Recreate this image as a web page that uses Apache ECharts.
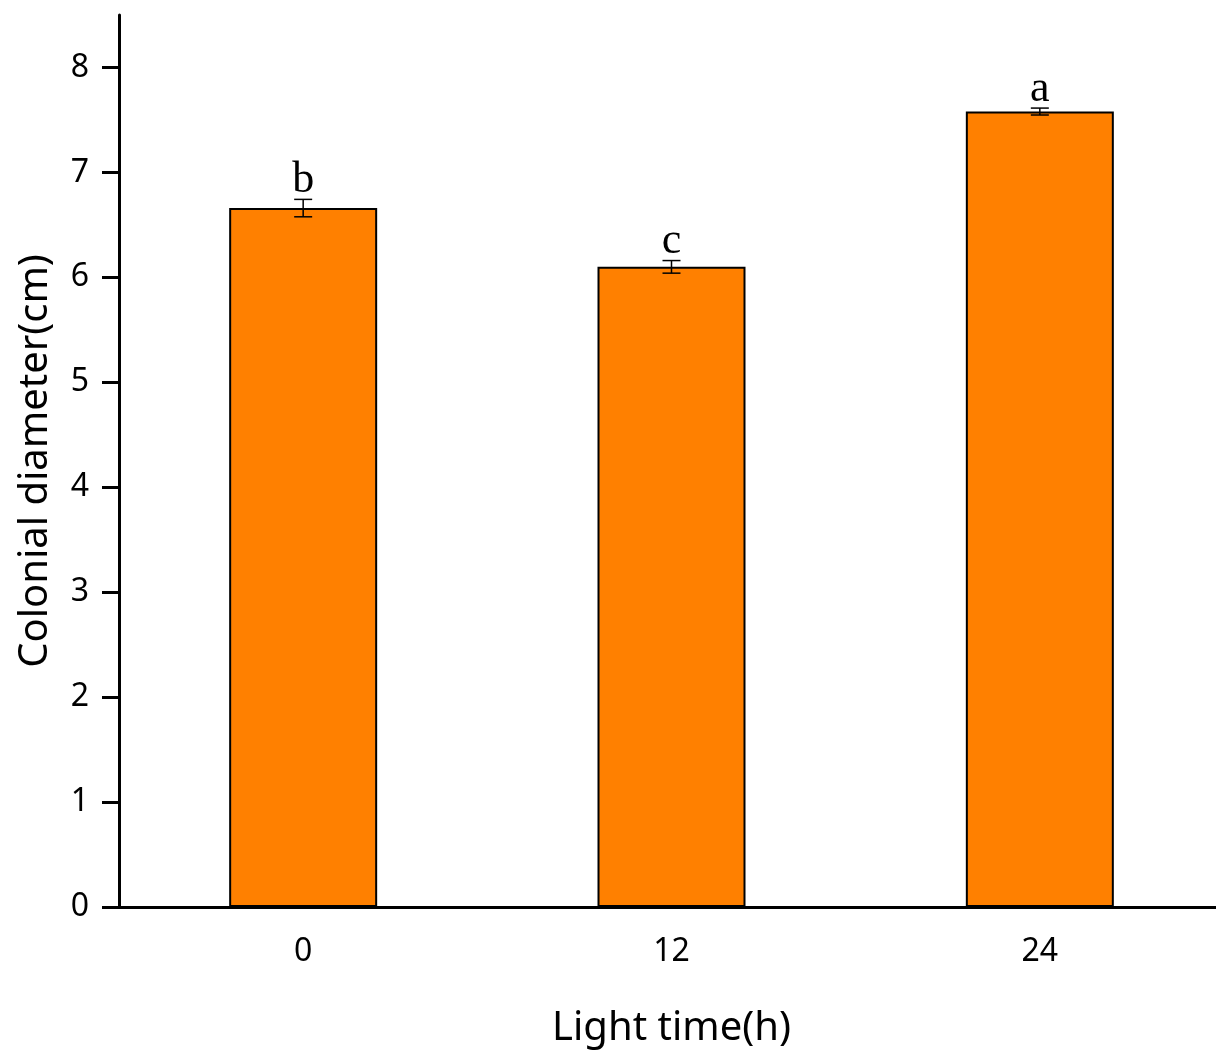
<!DOCTYPE html>
<html><head><meta charset="utf-8">
<script src="https://cdn.jsdelivr.net/npm/echarts@6/dist/echarts.min.js"></script>
<style>html,body{margin:0;padding:0;background:#fff}#c{width:1216px;height:1053px}</style>
</head><body><div id="c"></div>
<script>
const categories = ['0', '12', '24'];
const values = [6.66, 6.10, 7.58];
const errors = [0.083, 0.06, 0.033];
const letters = ['b', 'c', 'a'];
const yTicks = [0, 1, 2, 3, 4, 5, 6, 7, 8];

const chart = echarts.init(document.getElementById('c'), null, {renderer: 'canvas'});
const font = 'Noto Sans';
chart.setOption({
  animation: false,
  backgroundColor: '#fff',
  grid: {left: 119, top: 15, bottom: 146, right: -8, outerBoundsMode: 'none', containLabel: false},
  xAxis: {
    type: 'category', data: categories,
    name: 'Light time(h)', nameLocation: 'middle', nameGap: 102,
    nameTextStyle: {fontFamily: font, fontSize: 40, color: '#000'},
    axisLine: {lineStyle: {color: '#000', width: 3}},
    axisTick: {alignWithLabel: true, length: 17, lineStyle: {color: '#000', width: 3}},
    axisLabel: {fontFamily: font, fontSize: 32, color: '#000', margin: 29}
  },
  yAxis: {
    type: 'value', min: 0, max: 8.5,
    name: 'Colonial diameter(cm)', nameLocation: 'middle', nameGap: 63,
    nameTextStyle: {fontFamily: font, fontSize: 40, color: '#000'},
    axisLine: {show: true, lineStyle: {color: '#000', width: 3}},
    axisTick: {show: true, length: 17, customValues: yTicks, lineStyle: {color: '#000', width: 3}},
    axisLabel: {fontFamily: font, fontSize: 32, color: '#000', margin: 30, customValues: yTicks},
    splitLine: {show: false}
  },
  series: [
    {
      type: 'bar', data: values, barWidth: 148,
      itemStyle: {color: '#FF8000', borderColor: '#000', borderWidth: 2}
    },
    {
      type: 'custom',
      data: values.map((v, i) => [i, v, errors[i], letters[i]]),
      renderItem: function (params, api) {
        const x = api.coord([api.value(0), 0])[0];
        const hi = api.coord([api.value(0), api.value(1) + api.value(2)])[1];
        const lo = api.coord([api.value(0), api.value(1) - api.value(2)])[1];
        const hw = 9;
        const st = {stroke: '#000', lineWidth: 1.5};
        return {
          type: 'group',
          children: [
            {type: 'line', shape: {x1: x, y1: hi, x2: x, y2: lo}, style: st},
            {type: 'line', shape: {x1: x - hw, y1: hi, x2: x + hw, y2: hi}, style: st},
            {type: 'line', shape: {x1: x - hw, y1: lo, x2: x + hw, y2: lo}, style: st},
            {type: 'text', x: x, y: hi + 3,
             style: {text: letters[params.dataIndex], font: '44px "Liberation Serif"', fill: '#000',
                     align: 'center', verticalAlign: 'bottom'}}
          ]
        };
      },
      z: 10
    }
  ]
});
</script></body></html>
